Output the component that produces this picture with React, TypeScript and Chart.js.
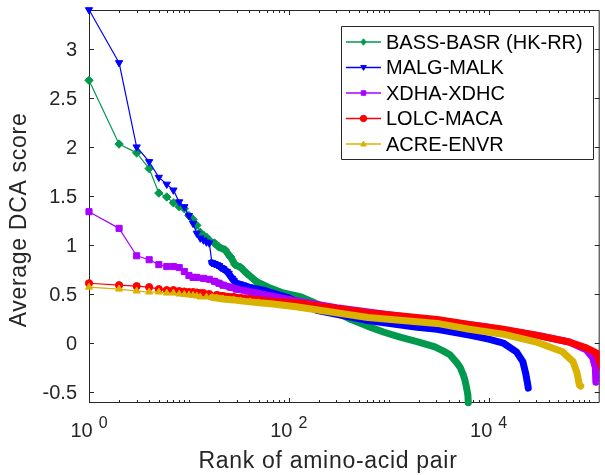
import { useEffect, useRef } from "react";
import { Chart, registerables } from "chart.js";

Chart.register(...registerables);

// ---------------- data ----------------
const seriesNames = ["BASS-BASR (HK-RR)", "MALG-MALK", "XDHA-XDHC", "LOLC-MACA", "ACRE-ENVR"];

const bassRanks = [1, 2, 3, 4, 5, 6, 7, 8, 9, 10, 11, 12, 13, 14, 15, 16, 18, 20, 23, 26, 29, 33, 38, 47, 65, 88, 133, 200, 290, 420, 620, 900, 1300, 2000, 2900, 3500, 4100, 4800, 5200, 5600, 5800, 6000, 6200, 6260];
const bassScores = [2.68, 2.03, 1.94, 1.78, 1.53, 1.49, 1.43, 1.39, 1.37, 1.3, 1.26, 1.2, 1.13, 1.1, 1.08, 1.05, 1.02, 0.98, 0.95, 0.88, 0.8, 0.77, 0.71, 0.63, 0.56, 0.51, 0.47, 0.39, 0.32, 0.24, 0.17, 0.11, 0.06, 0.01, -0.04, -0.08, -0.12, -0.2, -0.25, -0.33, -0.38, -0.45, -0.53, -0.61];

const malgRanks = [1, 2, 3, 4, 5, 6, 7, 8, 9, 10, 11, 12, 13, 14, 15, 16, 17, 18, 19, 20, 21, 22, 24, 25, 27, 28, 30, 32, 35, 40, 55, 100, 195, 620, 1930, 3050, 6400, 10000, 14000, 19000, 22000, 23500, 24500, 24950];
const malgScores = [3.4, 2.86, 2.0, 1.85, 1.69, 1.62, 1.56, 1.44, 1.39, 1.3, 1.22, 1.12, 1.07, 1.05, 1.03, 1.02, 0.82, 0.81, 0.8, 0.79, 0.77, 0.76, 0.73, 0.71, 0.66, 0.64, 0.61, 0.6, 0.59, 0.57, 0.54, 0.46, 0.33, 0.23, 0.16, 0.14, 0.08, 0.04, 0.0, -0.09, -0.19, -0.31, -0.41, -0.46];

const xdhaRanks = [1, 2, 3, 4, 5, 6, 7, 8, 9, 10, 11, 12, 14, 16, 18, 20, 22, 26, 30, 38, 47, 75, 120, 300, 1000, 3000, 10000, 30000, 64000, 95000, 110000, 117000, 118500];
const xdhaScores = [1.34, 1.17, 0.89, 0.85, 0.8, 0.78, 0.78, 0.77, 0.73, 0.69, 0.67, 0.67, 0.66, 0.65, 0.63, 0.61, 0.59, 0.57, 0.55, 0.53, 0.51, 0.47, 0.43, 0.36, 0.29, 0.23, 0.16, 0.08, 0.01, -0.07, -0.15, -0.25, -0.4];

const lolcRanks = [1, 2, 3, 4, 5, 6, 7, 8, 9, 10, 11, 12, 13, 14, 16, 19, 22, 28, 33, 41, 50, 66, 80, 118, 620, 3050, 6400, 14000, 30000, 64000, 95000, 120000, 135000];
const lolcScores = [0.61, 0.59, 0.58, 0.57, 0.55, 0.54, 0.54, 0.53, 0.525, 0.52, 0.52, 0.515, 0.51, 0.51, 0.5, 0.49, 0.48, 0.47, 0.46, 0.45, 0.44, 0.43, 0.42, 0.41, 0.31, 0.24, 0.19, 0.14, 0.08, 0.01, -0.05, -0.1, -0.25];

const acreRanks = [1, 2, 3, 4, 5, 6, 7, 8, 9, 10, 11, 12, 13, 15, 17, 19, 22, 28, 33, 41, 50, 66, 80, 118, 620, 3050, 6400, 14000, 30000, 55000, 70000, 77000, 81000, 83500];
const acreScores = [0.57, 0.55, 0.53, 0.52, 0.52, 0.51, 0.51, 0.5, 0.495, 0.49, 0.485, 0.48, 0.47, 0.47, 0.465, 0.46, 0.45, 0.44, 0.43, 0.42, 0.41, 0.4, 0.39, 0.37, 0.26, 0.2, 0.14, 0.09, 0.01, -0.09, -0.19, -0.31, -0.43, -0.44];

const yTicks = [-0.5, 0, 0.5, 1, 1.5, 2, 2.5, 3];
const yTickLabels = ["-0.5", "0", "0.5", "1", "1.5", "2", "2.5", "3"];
const xMajorTicks = [1, 100, 10000];
const xTickExponents = ["0", "2", "4"];
const xTitle = "Rank of amino-acid pair";
const yTitle = "Average DCA score";

// ---------------- styles ----------------
const colors = ["rgb(0,153,77)", "rgb(0,0,255)", "rgb(172,0,255)", "rgb(255,0,0)", "rgb(218,178,0)"];
const markerStyles = ["rectRot", "triangle", "rect", "circle", "triangle"];
const markerRotations = [0, 180, 0, 0, 0];
const markerRadii = [4.2, 4.2, 4.3, 3.6, 4.0];
const FONT = '"Liberation Sans", Arial, Helvetica, sans-serif';
const AXIS_COLOR = "#262626";
const MARKER_MAX_RANK = 60;
const BAND_MIN_RANK = 17;

const X_MIN = 1;
const X_MAX = 129400;
const Y_MIN = -0.612;
const Y_MAX = 3.398;

function drawMarker(ctx: CanvasRenderingContext2D, style: string, x: number, y: number, r: number, color: string, rot: number) {
  ctx.save();
  ctx.fillStyle = color;
  ctx.strokeStyle = color;
  ctx.lineWidth = 1;
  ctx.translate(x, y);
  ctx.rotate((rot * Math.PI) / 180);
  ctx.beginPath();
  if (style === "circle") {
    ctx.arc(0, 0, r, 0, Math.PI * 2);
  } else if (style === "rect") {
    const s = r * Math.SQRT1_2;
    ctx.rect(-s, -s, 2 * s, 2 * s);
  } else if (style === "rectRot") {
    ctx.moveTo(0, -r);
    ctx.lineTo(r * 0.8, 0);
    ctx.lineTo(0, r);
    ctx.lineTo(-r * 0.8, 0);
    ctx.closePath();
  } else {
    const h = r * 0.9;
    ctx.moveTo(0, -h);
    ctx.lineTo(h * 0.95, h * 0.7);
    ctx.lineTo(-h * 0.95, h * 0.7);
    ctx.closePath();
  }
  ctx.fill();
  ctx.stroke();
  ctx.restore();
}

const axesPlugin = {
  id: "matlabAxes",
  beforeDatasetsDraw(chart: any) {
    const { ctx, chartArea: a, scales } = chart;
    const xs = scales.x;
    const ys = scales.y;
    ctx.save();
    ctx.strokeStyle = AXIS_COLOR;
    ctx.lineWidth = 1;
    ctx.beginPath();
    ctx.rect(a.left + 0.5, a.top + 0.5, a.right - a.left - 1, a.bottom - a.top - 1);
    ctx.stroke();

    // y ticks (inward, both sides)
    ctx.beginPath();
    yTicks.forEach((v) => {
      const py = Math.round(ys.getPixelForValue(v)) + 0.5;
      ctx.moveTo(a.left, py);
      ctx.lineTo(a.left + 5, py);
      ctx.moveTo(a.right, py);
      ctx.lineTo(a.right - 5, py);
    });
    // x ticks (log, inward, top and bottom)
    for (let k = 0; k <= 5; k++) {
      for (let m = 1; m <= 9; m++) {
        const v = m * Math.pow(10, k);
        if (v > X_MAX) continue;
        const major = xMajorTicks.includes(v);
        const len = major ? 5 : 3;
        const px = Math.round(xs.getPixelForValue(v)) + 0.5;
        ctx.moveTo(px, a.bottom);
        ctx.lineTo(px, a.bottom - len);
        ctx.moveTo(px, a.top);
        ctx.lineTo(px, a.top + len);
      }
    }
    ctx.stroke();

    // y tick labels
    ctx.fillStyle = AXIS_COLOR;
    ctx.font = `20px ${FONT}`;
    ctx.textAlign = "right";
    ctx.textBaseline = "middle";
    yTicks.forEach((v, i) => {
      ctx.fillText(yTickLabels[i], 77, ys.getPixelForValue(v) + 1);
    });

    // x tick labels 10^k
    ctx.textAlign = "left";
    ctx.textBaseline = "alphabetic";
    xMajorTicks.forEach((v, i) => {
      const px = xs.getPixelForValue(v);
      ctx.font = `20px ${FONT}`;
      const w1 = ctx.measureText("10").width;
      ctx.font = `16px ${FONT}`;
      const w2 = ctx.measureText(xTickExponents[i]).width;
      const gap = 6;
      const start = px - (w1 + gap + w2) / 2;
      ctx.font = `20px ${FONT}`;
      ctx.fillText("10", start, 437);
      ctx.font = `16px ${FONT}`;
      ctx.fillText(xTickExponents[i], start + w1 + gap, 428);
    });

    // axis titles
    ctx.font = `23px ${FONT}`;
    (ctx as any).letterSpacing = "0.7px";
    ctx.textAlign = "center";
    ctx.fillText(xTitle, 328, 468);
    ctx.save();
    ctx.translate(25.5, 220);
    ctx.rotate(-Math.PI / 2);
    ctx.fillText(yTitle, 0, 0);
    ctx.restore();
    (ctx as any).letterSpacing = "0px";
    ctx.restore();
  },
  afterDraw(chart: any) {
    const { ctx } = chart;
    ctx.save();
    ctx.fillStyle = "#ffffff";
    ctx.strokeStyle = AXIS_COLOR;
    ctx.lineWidth = 1;
    ctx.beginPath();
    ctx.rect(341.5, 26.5, 252, 133);
    ctx.fill();
    ctx.stroke();
    ctx.font = `20px ${FONT}`;
    ctx.textAlign = "left";
    ctx.textBaseline = "middle";
    seriesNames.forEach((name, i) => {
      const y = 42 + i * 25.5;
      ctx.strokeStyle = colors[i];
      ctx.lineWidth = 1.4;
      ctx.beginPath();
      ctx.moveTo(346, y);
      ctx.lineTo(381, y);
      ctx.stroke();
      drawMarker(ctx, markerStyles[i], 363.5, y, 3.2, colors[i], markerRotations[i]);
      ctx.fillStyle = "#000000";
      ctx.fillText(name, 386, y + 1);
    });
    ctx.restore();
  },
};

const seriesRanks = [bassRanks, malgRanks, xdhaRanks, lolcRanks, acreRanks];
const seriesScores = [bassScores, malgScores, xdhaScores, lolcScores, acreScores];

export default function App() {
  const canvasRef = useRef<HTMLCanvasElement | null>(null);

  useEffect(() => {
    if (!canvasRef.current) return;
    const datasets = seriesNames.map((name, i) => ({
      label: name,
      data: seriesRanks[i].map((r, j) => ({ x: r, y: seriesScores[i][j] })),
      borderColor: colors[i],
      backgroundColor: colors[i],
      borderWidth: 1.2,
      borderJoinStyle: "round" as const,
      borderCapStyle: "round" as const,
      pointStyle: markerStyles[i] as any,
      rotation: markerRotations[i],
      pointBackgroundColor: colors[i],
      pointBorderColor: colors[i],
      pointBorderWidth: 1,
      pointRadius: (c: any) => (c.raw && c.raw.x <= MARKER_MAX_RANK ? markerRadii[i] : 0),
      pointHoverRadius: 0,
      tension: 0,
      fill: false,
      order: 5 - i,
      clip: { left: 6, top: 6, right: 0, bottom: 6 },
      segment: {
        borderWidth: (c: any) => (c.p0.parsed.x >= BAND_MIN_RANK ? 7 : 1.2),
      },
    }));

    const chart = new Chart(canvasRef.current, {
      type: "line",
      data: { datasets },
      options: {
        responsive: false,
        maintainAspectRatio: false,
        animation: false,
        devicePixelRatio: 1,
        events: [],
        layout: { padding: { left: 89, top: 10, right: 1, bottom: 72 } },
        scales: {
          x: { type: "logarithmic", min: X_MIN, max: X_MAX, display: false },
          y: { type: "linear", min: Y_MIN, max: Y_MAX, display: false },
        },
        plugins: {
          legend: { display: false },
          tooltip: { enabled: false },
        },
      },
      plugins: [axesPlugin],
    });
    return () => chart.destroy();
  }, []);

  return (
    <div style={{ position: "fixed", left: 0, top: 0, width: 605, height: 475, background: "#fff" }}>
      <canvas ref={canvasRef} width={605} height={475} style={{ display: "block" }} />
    </div>
  );
}
